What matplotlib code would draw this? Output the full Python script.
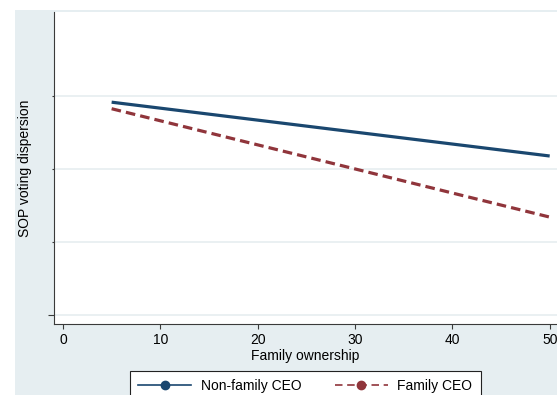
import matplotlib
matplotlib.use("Agg")
import matplotlib.pyplot as plt
from matplotlib.lines import Line2D
from matplotlib.patches import Rectangle

# Predicted SOP voting dispersion across family ownership levels
family_ownership = [5, 50]
nonfamily_ceo = [2.92, 2.18]
family_ceo = [2.83, 1.34]

series_labels = ["Non-family CEO", "Family CEO"]
x_ticks = [0, 10, 20, 30, 40, 50]
y_major = [0]
y_minor = [1, 2, 3]

navy = "#1a476f"
maroon = "#90353b"
region_bg = "#e6eef1"
grid_col = "#e4ecef"
axis_col = "#3a3a3a"

plt.rcParams["font.family"] = ["Liberation Sans", "DejaVu Sans"]
plt.rcParams["font.size"] = 10

W, H = 557, 395
fig = plt.figure(figsize=(W / 100, H / 100), dpi=100)
fig.patch.set_facecolor("white")

# graph region background
fig.add_artist(Rectangle((15 / W, 0), 1 - 15 / W, (H - 10) / H,
                         transform=fig.transFigure, facecolor=region_bg,
                         edgecolor="none", zorder=0))

ax = fig.add_axes([54 / W, (H - 324) / H, (W - 54) / W, (324 - 12) / H])
ax.set_facecolor("white")
ax.set_zorder(1)

ax.plot(family_ownership, nonfamily_ceo, color=navy, lw=2.3,
        solid_capstyle="butt", zorder=3)
ax.plot(family_ownership, family_ceo, color=maroon, lw=2.3,
        dashes=(3.0, 1.6), dash_capstyle="butt", zorder=3)

ax.set_xlim(-0.92, 50.75)
ax.set_ylim(-0.13, 4.16)
ax.set_xticks(x_ticks)
ax.set_yticks(y_major)
ax.set_yticks(y_minor, minor=True)
ax.set_yticklabels([])
ax.set_yticklabels([], minor=True)

ax.grid(True, axis="y", which="both", color=grid_col, lw=1.1, zorder=1)
ax.set_axisbelow(True)

for side in ("top", "right"):
    ax.spines[side].set_visible(False)
for side in ("left", "bottom"):
    ax.spines[side].set_color(axis_col)
    ax.spines[side].set_linewidth(0.8)

ax.tick_params(axis="x", length=3.8, width=0.8, color=axis_col, pad=2.5,
               labelsize=10)
ax.tick_params(axis="y", which="major", length=4.5, width=0.8, color=axis_col)
ax.tick_params(axis="y", which="minor", length=1.6, width=0.8, color=axis_col)

ax.set_xlabel("Family ownership", fontsize=10, labelpad=1.5)
ax.set_ylabel("SOP voting dispersion", fontsize=10)
ax.yaxis.set_label_coords(-0.044, 0.5)

handles = [
    Line2D([], [], color=navy, lw=1.2, marker="o", markersize=6,
           markerfacecolor=navy, markeredgecolor=navy),
    Line2D([], [], color=maroon, lw=1.2, dashes=(4.5, 2.8), marker="o",
           markersize=6, markerfacecolor=maroon, markeredgecolor=maroon),
]
leg = fig.legend(handles, series_labels, loc="upper left",
                 bbox_to_anchor=(130 / W, (H - 371) / H), ncol=2,
                 frameon=True, fancybox=False, edgecolor="#222222",
                 facecolor="white", framealpha=1, fontsize=10,
                 handlelength=3.8, handletextpad=0.7, columnspacing=2.4,
                 borderpad=0.6, borderaxespad=0, numpoints=1)
leg.get_frame().set_linewidth(0.8)

fig.savefig("out.png", dpi=100)
